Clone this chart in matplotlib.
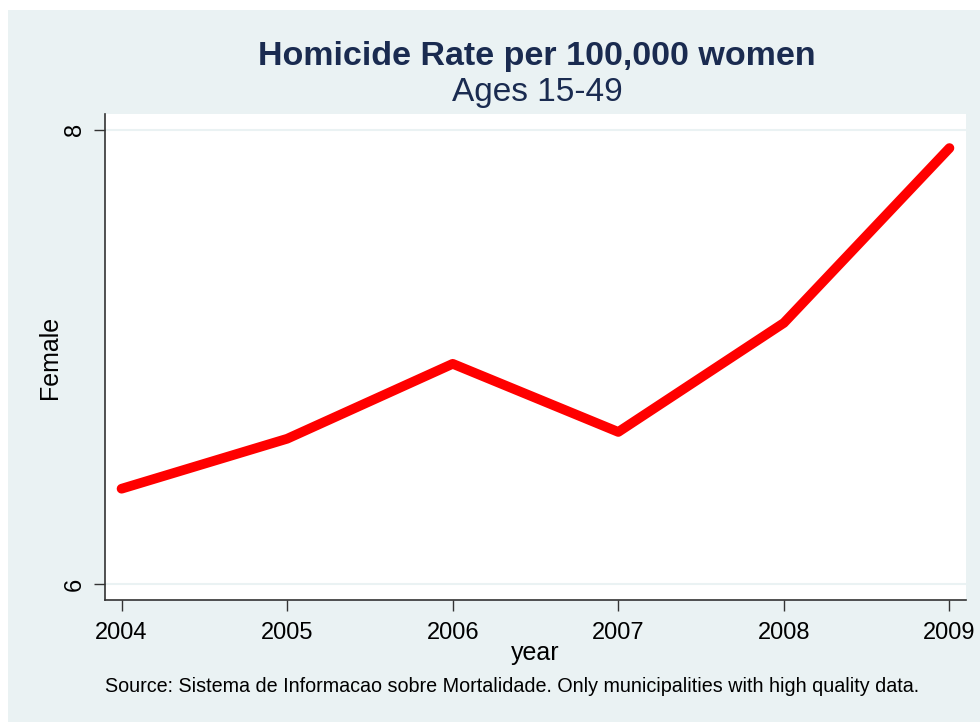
import matplotlib.pyplot as plt
from matplotlib.patches import Rectangle

# data
years = [2004, 2005, 2006, 2007, 2008, 2009]
female = [6.42, 6.64, 6.97, 6.67, 7.15, 7.92]
y_ticks = [6, 8]

bg = '#eaf2f3'
navy = '#1a2b50'

plt.rcParams['font.family'] = ['Liberation Sans', 'DejaVu Sans']

fig = plt.figure(figsize=(9.8, 7.22), dpi=100)
fig.patch.set_facecolor('white')
# stata style outer panel
fig.patches.append(Rectangle((8 / 980, 0), 1, 1 - 10 / 722, transform=fig.transFigure,
                             facecolor=bg, edgecolor='none', zorder=-1))

# axes box in pixels: left 105, right 966, top 114, bottom 600
ax = fig.add_axes([105 / 980, 1 - 600 / 722, (966 - 105) / 980, (600 - 114) / 722])
ax.set_facecolor('white')

ax.plot(years, female, color='#ff0000', linewidth=7, solid_capstyle='round',
        solid_joinstyle='round', zorder=3)

ax.set_xlim(2003.9, 2009.1)
ax.set_ylim(5.93, 8.07)
ax.set_xticks(years)
ax.set_xticklabels([str(y) for y in years], fontsize=17)
ax.set_yticks(y_ticks)
ax.set_yticklabels([str(t) for t in y_ticks], fontsize=17, rotation=90, va='center')
for t in y_ticks:
    ax.axhline(t, color=bg, linewidth=1.5, zorder=1)

for s in ['top', 'right']:
    ax.spines[s].set_visible(False)
for s in ['left', 'bottom']:
    ax.spines[s].set_color('#333333')
    ax.spines[s].set_linewidth(1.2)
ax.tick_params(axis='both', direction='out', length=8, width=1.0, color='#333333')
ax.tick_params(axis='x', pad=8)
ax.tick_params(axis='y', pad=6)

ax.set_xlabel('year', fontsize=18, labelpad=-2)
ax.set_ylabel('Female', fontsize=18, labelpad=1)

fig.text(0.548, 1 - 57 / 722, 'Homicide Rate per 100,000 women', ha='center', va='center',
         fontsize=24.5, fontweight='bold', color=navy)
fig.text(0.548, 1 - 92 / 722, 'Ages 15-49', ha='center', va='center',
         fontsize=24, color=navy)
fig.text(0.523, 1 - 686 / 722,
         'Source: Sistema de Informacao sobre Mortalidade. Only municipalities with high quality data.',
         ha='center', va='center', fontsize=14.2, color='black')

fig.savefig('out.png', dpi=100, facecolor=fig.get_facecolor())
